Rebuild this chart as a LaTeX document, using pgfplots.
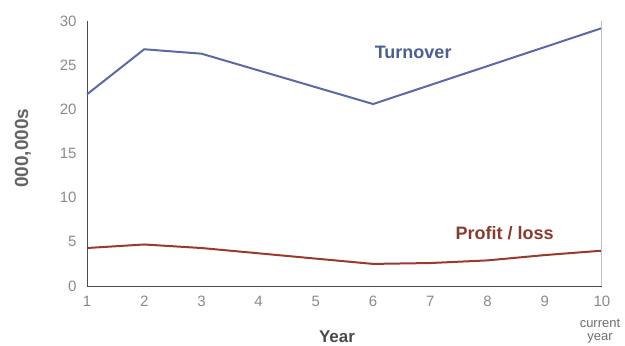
\documentclass[border=0pt]{standalone}
\usepackage{pgfplots}
\pgfplotsset{compat=1.18}
\usepackage{fontspec}
\setmainfont{Liberation Sans}
\definecolor{cTurnLine}{HTML}{5B6AA6}
\definecolor{cTurnLab}{HTML}{4E5D93}
\definecolor{cProfLine}{HTML}{9A3A2A}
\definecolor{cProfLab}{HTML}{8B3A2E}
\definecolor{cTickGray}{HTML}{8A8A8A}
\definecolor{cLabGray}{HTML}{4A4A4A}
\begin{document}
\begin{tikzpicture}
\path[use as bounding box] (-87bp,-60bp) rectangle (538bp,286bp);
\begin{axis}[
  at={(0,0)}, anchor=south west,
  scale only axis,
  width=515bp, height=265bp,
  xmin=1, xmax=10, ymin=0, ymax=30,
  axis x line=bottom, axis y line=left,
  axis line style={-, draw=cLabGray, line width=1pt},
  xtick={1,...,10}, ytick={0,5,...,30},
  major tick length=0pt,
  tick label style={font=\fontsize{15bp}{17bp}\selectfont, text=cTickGray},
  /pgf/number format/assume math mode=true,
  xticklabel style={yshift=-9bp, inner sep=1bp},
  yticklabel style={xshift=-7bp},
  clip=false,
]
\addplot[draw=cTurnLine, line width=2bp] coordinates {(1,21.7) (2,26.8) (3,26.3) (6,20.6) (10,29.2)};
\addplot[draw=cProfLine, line width=2bp] coordinates {(1,4.3) (2,4.7) (3,4.3) (4,3.7) (5,3.1) (6,2.5) (7,2.6) (8,2.9) (9,3.5) (10,4.0)};
\node[text=cTurnLab, font=\fontsize{18bp}{20bp}\selectfont\bfseries] at (axis cs:6.70,26.5) {Turnover};
\node[text=cProfLab, font=\fontsize{18bp}{20bp}\selectfont\bfseries] at (axis cs:8.30,6.0) {Profit / loss};
\node[text=cLabGray, font=\fontsize{17bp}{19bp}\selectfont\bfseries] at ([yshift=-51bp]axis cs:5.37,0) {Year};
\node[text=cLabGray!85, rotate=90, font=\fontsize{19bp}{21bp}\selectfont\bfseries] at ([xshift=-64bp]axis cs:1,15.6) {000,000s};
\node[text=cTickGray!80!black, align=center, font=\fontsize{13bp}{13bp}\selectfont, anchor=north, inner sep=0.5bp] at ([xshift=-2bp,yshift=-32bp]axis cs:10,0) {current\\year};
\draw[black!25, line width=1pt] (axis cs:10,0) -- (axis cs:10,30);
\end{axis}
\end{tikzpicture}
\end{document}
